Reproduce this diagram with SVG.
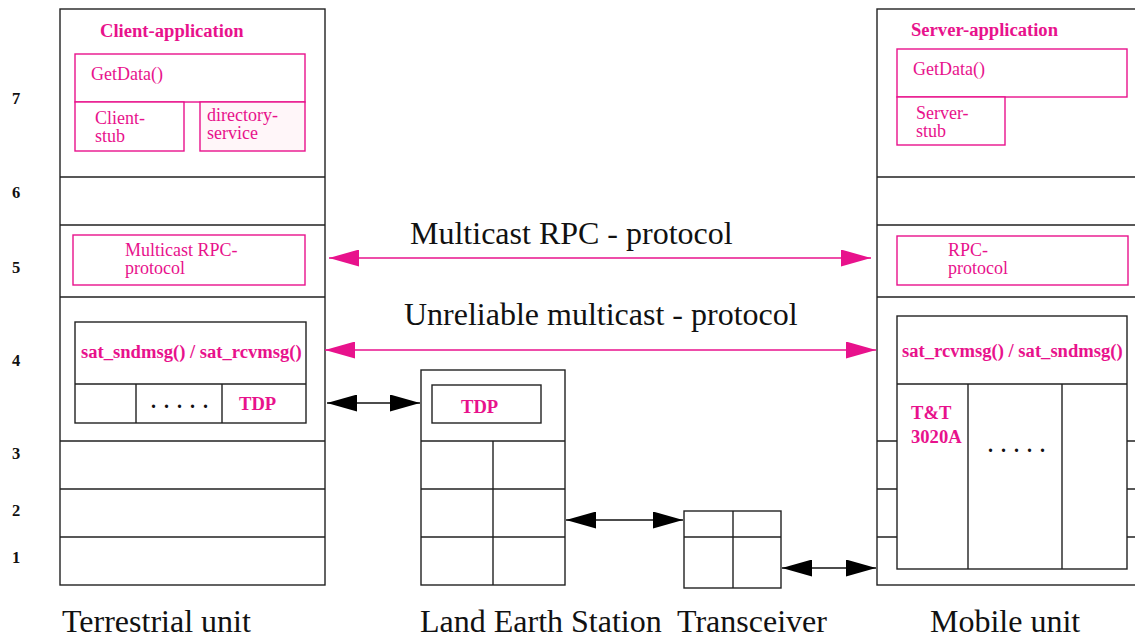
<svg xmlns="http://www.w3.org/2000/svg" width="1135" height="639" viewBox="0 0 1135 639">
<style>
.box{fill:#fff;stroke:#222;stroke-width:1.4}
.ln{stroke:#222;stroke-width:1.4;fill:none}
.pbox{fill:#fff;stroke:#e8128c;stroke-width:1.4}
.pt{font-family:"Liberation Serif","Times New Roman",serif;font-size:18px;fill:#e8128c}
.pb{font-family:"Liberation Serif","Times New Roman",serif;font-size:18.6px;font-weight:bold;fill:#e8128c}
.num{font-family:"Liberation Serif","Times New Roman",serif;font-size:16.5px;font-weight:bold;fill:#111}
.big{font-family:"Liberation Serif","Times New Roman",serif;font-size:32px;fill:#111}
.dots{font-family:"Liberation Serif","Times New Roman",serif;font-size:20px;font-weight:bold;fill:#111;letter-spacing:8px}
.ca{stroke:#111;stroke-width:1.4;fill:none;marker-start:url(#ab);marker-end:url(#ab)}
.pa{stroke:#e8128c;stroke-width:1.6;fill:none;marker-start:url(#ap);marker-end:url(#ap)}
</style>
<defs>
<marker id="ab" markerUnits="userSpaceOnUse" markerWidth="30" markerHeight="17" refX="30" refY="8.5" orient="auto-start-reverse"><path d="M0,0 L30,8.5 L0,17 Z" fill="#000"/></marker>
<marker id="ap" markerUnits="userSpaceOnUse" markerWidth="30" markerHeight="17" refX="30" refY="8.5" orient="auto-start-reverse"><path d="M0,0 L30,8.5 L0,17 Z" fill="#e8128c"/></marker>
</defs>
<rect width="1135" height="639" fill="#fff"/>

<g id="layer-numbers">
<text class="num" x="12" y="104">7</text>
<text class="num" x="12" y="198">6</text>
<text class="num" x="12" y="273">5</text>
<text class="num" x="12" y="366">4</text>
<text class="num" x="12" y="459">3</text>
<text class="num" x="12" y="516">2</text>
<text class="num" x="12" y="563">1</text>
</g>

<g id="terrestrial-unit">
<rect class="box" x="60" y="9" width="265" height="576"/>
<path class="ln" d="M60,177H325M60,225H325M60,297H325M60,441H325M60,489H325M60,537H325"/>
<text class="pb" x="100" y="37">Client-application</text>
<rect class="pbox" x="75" y="54" width="230" height="48"/>
<text class="pt" x="91" y="80">GetData()</text>
<rect class="pbox" x="75" y="102" width="109" height="49"/>
<text class="pt" x="95" y="124">Client-</text>
<text class="pt" x="95" y="142">stub</text>
<rect class="pbox" x="200" y="102" width="105" height="49" style="fill:#fff6f9"/>
<text class="pt" x="207" y="121">directory-</text>
<text class="pt" x="207" y="139">service</text>
<rect class="pbox" x="73" y="235" width="232" height="50"/>
<text class="pt" x="125" y="256">Multicast RPC-</text>
<text class="pt" x="125" y="274">protocol</text>
<rect class="box" x="75" y="322" width="231" height="101"/>
<path class="ln" d="M75,384H306M136,384V423M222,384V423"/>
<text class="pb" x="81" y="358">sat_sndmsg() / sat_rcvmsg()</text>
<text class="dots" x="151" y="408">.....</text>
<text class="pb" x="239" y="410">TDP</text>
<text class="big" x="62" y="632">Terrestrial unit</text>
</g>

<g id="land-earth-station">
<rect class="box" x="421" y="370" width="144" height="215"/>
<path class="ln" d="M421,441H565M421,489H565M421,537H565M493,441V585"/>
<rect class="box" x="432" y="385" width="109" height="38"/>
<text class="pb" x="461" y="413">TDP</text>
<text class="big" x="420" y="632">Land Earth Station</text>
</g>

<g id="transceiver">
<rect class="box" x="684" y="511" width="97" height="77"/>
<path class="ln" d="M684,537H781M733,511V588"/>
<text class="big" x="677" y="632">Transceiver</text>
</g>

<g id="mobile-unit">
<rect class="box" x="877" y="9" width="300" height="576"/>
<path class="ln" d="M877,177H1135M877,225H1135M877,297H1135M877,441H1135M877,489H1135M877,537H1135"/>
<text class="pb" x="911" y="36">Server-application</text>
<rect class="pbox" x="897" y="49" width="230" height="48"/>
<text class="pt" x="913" y="75">GetData()</text>
<rect class="pbox" x="897" y="97" width="108" height="48"/>
<text class="pt" x="916" y="119">Server-</text>
<text class="pt" x="916" y="137">stub</text>
<rect class="pbox" x="897" y="236" width="231" height="49"/>
<text class="pt" x="948" y="256">RPC-</text>
<text class="pt" x="948" y="274">protocol</text>
<rect class="box" x="897" y="316" width="230" height="253"/>
<path class="ln" d="M897,384H1127M968,384V569M1062,384V569"/>
<text class="pb" x="902" y="357">sat_rcvmsg() / sat_sndmsg()</text>
<text class="pb" x="911" y="419">T&amp;T</text>
<text class="pb" x="911" y="443">3020A</text>
<text class="dots" x="988" y="452">.....</text>
<text class="big" x="930" y="632">Mobile unit</text>
</g>

<g id="connectors">
<line class="pa" x1="329" y1="258" x2="871" y2="258"/>
<line class="pa" x1="325" y1="350" x2="876" y2="350"/>
<line class="ca" x1="327" y1="403" x2="420" y2="403"/>
<line class="ca" x1="566" y1="520" x2="683" y2="520"/>
<line class="ca" x1="782" y1="568" x2="876" y2="568"/>
<text class="big" x="410" y="244">Multicast RPC - protocol</text>
<text class="big" x="404" y="325">Unreliable multicast - protocol</text>
</g>
</svg>
